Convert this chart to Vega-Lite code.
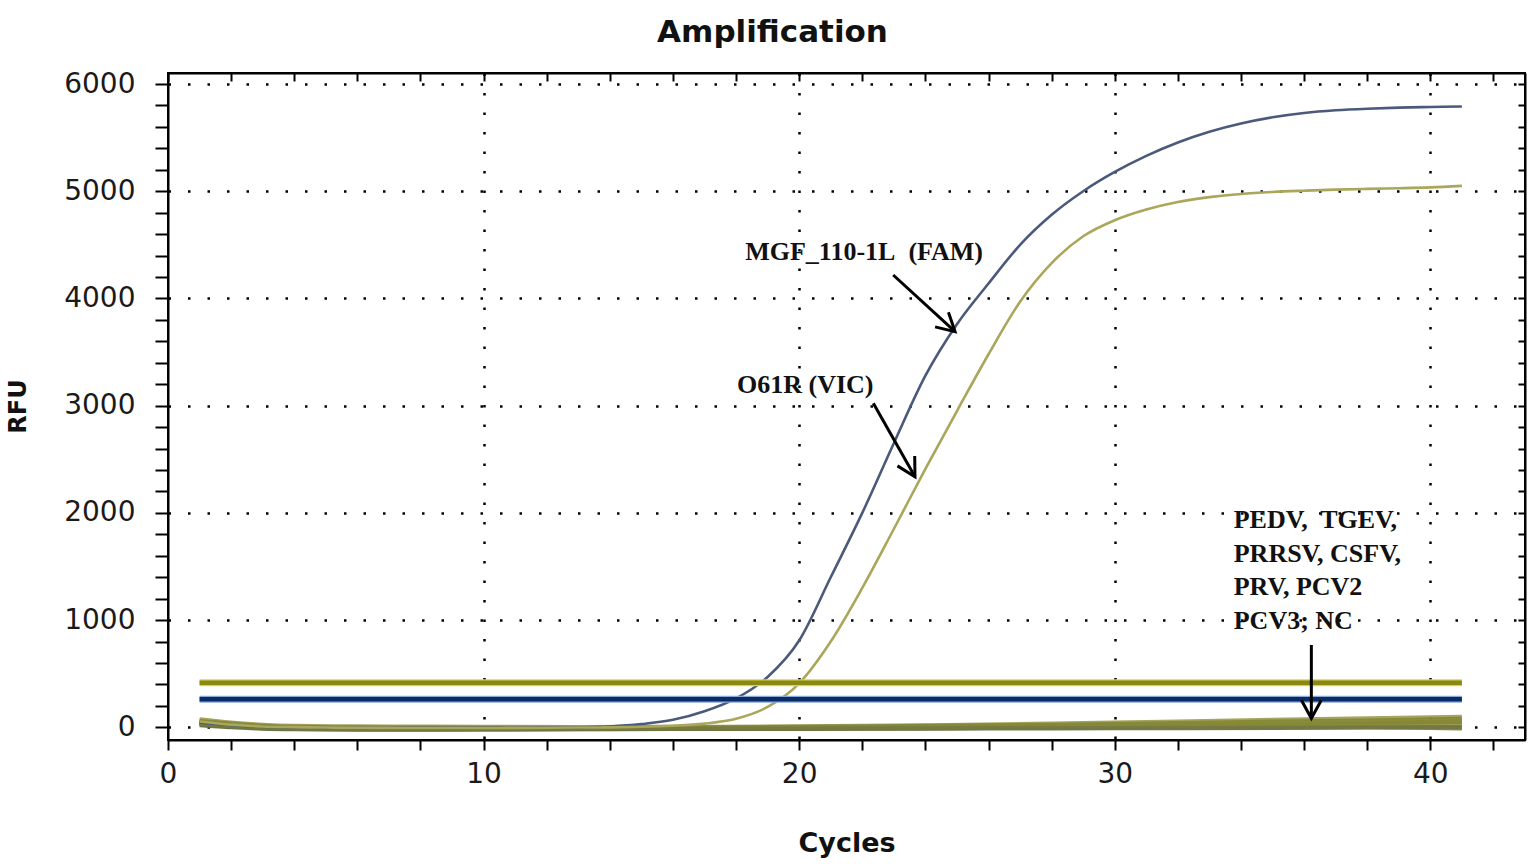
{
  "$schema": "https://vega.github.io/schema/vega-lite/v6.json",
  "width": 1357,
  "height": 667,
  "autosize": {"type": "none"},
  "padding": {"left": 168, "top": 73, "right": 10, "bottom": 128},
  "background": "white",
  "title": {"text": "Amplification", "font": "DejaVu Sans", "fontSize": 31, "fontWeight": "bold", "color": "#111111", "anchor": "middle", "baseline": "alphabetic", "offset": -3, "dx": -74},
  "config": {
    "view": {"stroke": "black", "strokeWidth": 2},
    "axis": {"domainColor": "black", "domainWidth": 2, "tickColor": "black", "tickWidth": 2, "labelFlush": false, "labelOverlap": false}
  },
  "datasets": {
    "amp": [
      {"target":"FAM","cycle":1,"rfu":45},{"target":"FAM","cycle":2,"rfu":20},{"target":"FAM","cycle":3,"rfu":5},{"target":"FAM","cycle":4,"rfu":0},
      {"target":"FAM","cycle":5,"rfu":-3},{"target":"FAM","cycle":6,"rfu":-4},{"target":"FAM","cycle":7,"rfu":-5},{"target":"FAM","cycle":8,"rfu":-5},
      {"target":"FAM","cycle":9,"rfu":-5},{"target":"FAM","cycle":10,"rfu":-4},{"target":"FAM","cycle":11,"rfu":-3},{"target":"FAM","cycle":12,"rfu":-2},
      {"target":"FAM","cycle":13,"rfu":0},{"target":"FAM","cycle":14,"rfu":8},{"target":"FAM","cycle":15,"rfu":30},{"target":"FAM","cycle":16,"rfu":70},
      {"target":"FAM","cycle":17,"rfu":150},{"target":"FAM","cycle":18,"rfu":270},{"target":"FAM","cycle":19,"rfu":470},{"target":"FAM","cycle":20,"rfu":810},
      {"target":"FAM","cycle":21,"rfu":1400},{"target":"FAM","cycle":22,"rfu":2000},{"target":"FAM","cycle":23,"rfu":2650},{"target":"FAM","cycle":24,"rfu":3280},
      {"target":"FAM","cycle":25,"rfu":3760},{"target":"FAM","cycle":26,"rfu":4140},{"target":"FAM","cycle":27,"rfu":4500},{"target":"FAM","cycle":28,"rfu":4780},
      {"target":"FAM","cycle":29,"rfu":5000},{"target":"FAM","cycle":30,"rfu":5180},{"target":"FAM","cycle":31,"rfu":5330},{"target":"FAM","cycle":32,"rfu":5455},
      {"target":"FAM","cycle":33,"rfu":5555},{"target":"FAM","cycle":34,"rfu":5632},{"target":"FAM","cycle":35,"rfu":5690},{"target":"FAM","cycle":36,"rfu":5730},
      {"target":"FAM","cycle":37,"rfu":5755},{"target":"FAM","cycle":38,"rfu":5770},{"target":"FAM","cycle":39,"rfu":5780},{"target":"FAM","cycle":40,"rfu":5786},
      {"target":"FAM","cycle":41,"rfu":5790},
      {"target":"VIC","cycle":1,"rfu":55},{"target":"VIC","cycle":2,"rfu":25},{"target":"VIC","cycle":3,"rfu":8},{"target":"VIC","cycle":4,"rfu":2},
      {"target":"VIC","cycle":5,"rfu":-2},{"target":"VIC","cycle":6,"rfu":-4},{"target":"VIC","cycle":7,"rfu":-5},{"target":"VIC","cycle":8,"rfu":-6},
      {"target":"VIC","cycle":9,"rfu":-6},{"target":"VIC","cycle":10,"rfu":-6},{"target":"VIC","cycle":11,"rfu":-5},{"target":"VIC","cycle":12,"rfu":-4},
      {"target":"VIC","cycle":13,"rfu":-2},{"target":"VIC","cycle":14,"rfu":0},{"target":"VIC","cycle":15,"rfu":5},{"target":"VIC","cycle":16,"rfu":15},
      {"target":"VIC","cycle":17,"rfu":35},{"target":"VIC","cycle":18,"rfu":80},{"target":"VIC","cycle":19,"rfu":190},{"target":"VIC","cycle":20,"rfu":410},
      {"target":"VIC","cycle":21,"rfu":800},{"target":"VIC","cycle":22,"rfu":1300},{"target":"VIC","cycle":23,"rfu":1850},{"target":"VIC","cycle":24,"rfu":2410},
      {"target":"VIC","cycle":25,"rfu":2950},{"target":"VIC","cycle":26,"rfu":3480},{"target":"VIC","cycle":27,"rfu":3970},{"target":"VIC","cycle":28,"rfu":4330},
      {"target":"VIC","cycle":29,"rfu":4580},{"target":"VIC","cycle":30,"rfu":4730},{"target":"VIC","cycle":31,"rfu":4830},{"target":"VIC","cycle":32,"rfu":4900},
      {"target":"VIC","cycle":33,"rfu":4945},{"target":"VIC","cycle":34,"rfu":4975},{"target":"VIC","cycle":35,"rfu":4993},{"target":"VIC","cycle":36,"rfu":5005},
      {"target":"VIC","cycle":37,"rfu":5015},{"target":"VIC","cycle":38,"rfu":5022},{"target":"VIC","cycle":39,"rfu":5028},{"target":"VIC","cycle":40,"rfu":5036},
      {"target":"VIC","cycle":41,"rfu":5050}
    ],
    "neg": [
      {"sample":"A","cycle":1,"rfu":75},{"sample":"A","cycle":2,"rfu":45},{"sample":"A","cycle":3,"rfu":25},{"sample":"A","cycle":4,"rfu":15},{"sample":"A","cycle":6,"rfu":10},{"sample":"A","cycle":8,"rfu":8},{"sample":"A","cycle":10,"rfu":5},{"sample":"A","cycle":13,"rfu":3},{"sample":"A","cycle":16,"rfu":5},{"sample":"A","cycle":20,"rfu":10},{"sample":"A","cycle":24,"rfu":20},{"sample":"A","cycle":28,"rfu":35},{"sample":"A","cycle":32,"rfu":55},{"sample":"A","cycle":35,"rfu":70},{"sample":"A","cycle":38,"rfu":85},{"sample":"A","cycle":40,"rfu":95},{"sample":"A","cycle":41,"rfu":100},
      {"sample":"B","cycle":1,"rfu":60},{"sample":"B","cycle":2,"rfu":35},{"sample":"B","cycle":3,"rfu":15},{"sample":"B","cycle":4,"rfu":5},{"sample":"B","cycle":6,"rfu":0},{"sample":"B","cycle":8,"rfu":-2},{"sample":"B","cycle":10,"rfu":-3},{"sample":"B","cycle":13,"rfu":-3},{"sample":"B","cycle":16,"rfu":0},{"sample":"B","cycle":20,"rfu":5},{"sample":"B","cycle":24,"rfu":15},{"sample":"B","cycle":28,"rfu":25},{"sample":"B","cycle":32,"rfu":40},{"sample":"B","cycle":35,"rfu":55},{"sample":"B","cycle":38,"rfu":65},{"sample":"B","cycle":40,"rfu":75},{"sample":"B","cycle":41,"rfu":80},
      {"sample":"C","cycle":1,"rfu":50},{"sample":"C","cycle":2,"rfu":20},{"sample":"C","cycle":3,"rfu":5},{"sample":"C","cycle":4,"rfu":-5},{"sample":"C","cycle":6,"rfu":-10},{"sample":"C","cycle":8,"rfu":-12},{"sample":"C","cycle":10,"rfu":-12},{"sample":"C","cycle":13,"rfu":-10},{"sample":"C","cycle":16,"rfu":-8},{"sample":"C","cycle":20,"rfu":-2},{"sample":"C","cycle":24,"rfu":5},{"sample":"C","cycle":28,"rfu":15},{"sample":"C","cycle":32,"rfu":25},{"sample":"C","cycle":35,"rfu":35},{"sample":"C","cycle":38,"rfu":45},{"sample":"C","cycle":40,"rfu":55},{"sample":"C","cycle":41,"rfu":60},
      {"sample":"D","cycle":1,"rfu":40},{"sample":"D","cycle":2,"rfu":15},{"sample":"D","cycle":3,"rfu":0},{"sample":"D","cycle":4,"rfu":-10},{"sample":"D","cycle":6,"rfu":-15},{"sample":"D","cycle":8,"rfu":-18},{"sample":"D","cycle":10,"rfu":-18},{"sample":"D","cycle":13,"rfu":-15},{"sample":"D","cycle":16,"rfu":-12},{"sample":"D","cycle":20,"rfu":-8},{"sample":"D","cycle":24,"rfu":-3},{"sample":"D","cycle":28,"rfu":5},{"sample":"D","cycle":32,"rfu":12},{"sample":"D","cycle":35,"rfu":20},{"sample":"D","cycle":38,"rfu":28},{"sample":"D","cycle":40,"rfu":32},{"sample":"D","cycle":41,"rfu":35},
      {"sample":"E","cycle":1,"rfu":30},{"sample":"E","cycle":2,"rfu":5},{"sample":"E","cycle":3,"rfu":-8},{"sample":"E","cycle":4,"rfu":-15},{"sample":"E","cycle":6,"rfu":-20},{"sample":"E","cycle":8,"rfu":-20},{"sample":"E","cycle":10,"rfu":-20},{"sample":"E","cycle":13,"rfu":-18},{"sample":"E","cycle":16,"rfu":-15},{"sample":"E","cycle":20,"rfu":-12},{"sample":"E","cycle":24,"rfu":-8},{"sample":"E","cycle":28,"rfu":-3},{"sample":"E","cycle":32,"rfu":3},{"sample":"E","cycle":35,"rfu":8},{"sample":"E","cycle":38,"rfu":12},{"sample":"E","cycle":40,"rfu":15},{"sample":"E","cycle":41,"rfu":18},
      {"sample":"F","cycle":1,"rfu":20},{"sample":"F","cycle":2,"rfu":0},{"sample":"F","cycle":3,"rfu":-12},{"sample":"F","cycle":4,"rfu":-18},{"sample":"F","cycle":6,"rfu":-22},{"sample":"F","cycle":8,"rfu":-22},{"sample":"F","cycle":10,"rfu":-20},{"sample":"F","cycle":13,"rfu":-18},{"sample":"F","cycle":16,"rfu":-16},{"sample":"F","cycle":20,"rfu":-15},{"sample":"F","cycle":24,"rfu":-12},{"sample":"F","cycle":28,"rfu":-10},{"sample":"F","cycle":32,"rfu":-8},{"sample":"F","cycle":35,"rfu":-5},{"sample":"F","cycle":38,"rfu":-2},{"sample":"F","cycle":40,"rfu":0},{"sample":"F","cycle":41,"rfu":0},
      {"sample":"G","cycle":1,"rfu":45},{"sample":"G","cycle":2,"rfu":25},{"sample":"G","cycle":3,"rfu":10},{"sample":"G","cycle":4,"rfu":0},{"sample":"G","cycle":6,"rfu":-5},{"sample":"G","cycle":8,"rfu":-8},{"sample":"G","cycle":10,"rfu":-8},{"sample":"G","cycle":13,"rfu":-6},{"sample":"G","cycle":16,"rfu":-3},{"sample":"G","cycle":20,"rfu":0},{"sample":"G","cycle":24,"rfu":5},{"sample":"G","cycle":28,"rfu":10},{"sample":"G","cycle":32,"rfu":18},{"sample":"G","cycle":35,"rfu":25},{"sample":"G","cycle":38,"rfu":35},{"sample":"G","cycle":40,"rfu":45},{"sample":"G","cycle":41,"rfu":50},
      {"sample":"H","cycle":1,"rfu":35},{"sample":"H","cycle":2,"rfu":10},{"sample":"H","cycle":3,"rfu":-3},{"sample":"H","cycle":4,"rfu":-12},{"sample":"H","cycle":6,"rfu":-16},{"sample":"H","cycle":8,"rfu":-16},{"sample":"H","cycle":10,"rfu":-15},{"sample":"H","cycle":13,"rfu":-14},{"sample":"H","cycle":16,"rfu":-12},{"sample":"H","cycle":20,"rfu":-10},{"sample":"H","cycle":24,"rfu":-8},{"sample":"H","cycle":28,"rfu":-6},{"sample":"H","cycle":32,"rfu":-4},{"sample":"H","cycle":35,"rfu":-2},{"sample":"H","cycle":38,"rfu":0},{"sample":"H","cycle":40,"rfu":-5},{"sample":"H","cycle":41,"rfu":-10}
    ],
    "thresholds": [
      {"channel":"VIC","start":1,"end":41,"rfu":416},
      {"channel":"FAM","start":1,"end":41,"rfu":261}
    ],
    "arrows": [
      {"arrow":"FAM","x1":22.98,"y1":4219,"x2":24.94,"y2":3690,"angle":-47.6},
      {"arrow":"VIC","x1":22.35,"y1":3022,"x2":23.67,"y2":2338,"angle":-29.6},
      {"arrow":"neg","x1":36.23,"y1":768,"x2":36.23,"y2":84,"angle":0}
    ],
    "labels": [
      {"cycle":18.29,"rfu":4356,"label":"MGF_110-1L\u00a0\u00a0(FAM)"},
      {"cycle":18.03,"rfu":3114,"label":"O61R (VIC)"}
    ],
    "labels2": [
      {"cycle":33.77,"rfu":1857,"label":"PEDV,\u00a0 TGEV,\nPRRSV, CSFV,\nPRV, PCV2\nPCV3; NC"}
    ]
  },
  "resolve": {"scale": {"color": "independent"}, "axis": {"x": "independent", "y": "independent"}},
  "layer": [
    {
      "data": {"name": "neg"},
      "mark": {"type": "line", "strokeWidth": 4, "opacity": 0.9, "interpolate": "monotone"},
      "encoding": {
        "x": {"field": "cycle", "type": "quantitative",
          "scale": {"domain": [0, 43], "nice": false, "zero": false},
          "axis": {
            "values": [0,2,4,6,8,10,12,14,16,18,20,22,24,26,28,30,32,34,36,38,40,42],
            "format": "d",
            "labelExpr": "datum.value % 10 === 0 ? datum.label : ''",
            "grid": true, "gridColor": "black", "gridDash": [2.5, 17], "gridWidth": 2.5,
            "gridOpacity": {"condition": {"test": "datum.value % 10 === 0 && datum.value > 0", "value": 1}, "value": 0},
            "tickSize": 10, "labelFont": "DejaVu Sans", "labelFontSize": 28, "labelColor": "#1a1a1a", "labelPadding": 10,
            "title": "Cycles", "titleFont": "DejaVu Sans", "titleFontSize": 27, "titleFontWeight": "bold", "titleColor": "#111111",
            "titleY": 111, "titleBaseline": "alphabetic"
          }
        },
        "y": {"field": "rfu", "type": "quantitative",
          "scale": {"domain": [-118, 6103], "nice": false, "zero": false},
          "axis": {
            "values": [0,200,400,600,800,1000,1200,1400,1600,1800,2000,2200,2400,2600,2800,3000,3200,3400,3600,3800,4000,4200,4400,4600,4800,5000,5200,5400,5600,5800,6000],
            "format": "d",
            "labelExpr": "datum.value % 1000 === 0 ? datum.label : ''",
            "grid": true, "gridColor": "black", "gridDash": [2.5, 17], "gridWidth": 2.5,
            "gridOpacity": {"condition": {"test": "datum.value % 1000 === 0", "value": 1}, "value": 0},
            "tickSize": 13, "labelFont": "DejaVu Sans", "labelFontSize": 28, "labelColor": "#1a1a1a", "labelPadding": 20,
            "title": "RFU", "titleFont": "DejaVu Sans", "titleFontSize": 24, "titleFontWeight": "bold", "titleColor": "#111111",
            "titleX": -143, "titleY": 333, "titleBaseline": "alphabetic", "titleAngle": -90
          }
        },
        "color": {"field": "sample", "type": "nominal", "legend": null,
          "scale": {"domain": ["A","B","C","D","E","F","G","H"], "range": ["#9c9a4c","#7f8a36","#8c8a2e","#6e7d3c","#a3a055","#5f6b3a","#87873a","#767a44"]}}
      }
    },
    {
      "data": {"name": "amp"},
      "mark": {"type": "line", "strokeWidth": 2.6, "interpolate": "monotone"},
      "encoding": {
        "x": {"field": "cycle", "type": "quantitative",
          "scale": {"domain": [0, 43], "nice": false, "zero": false},
          "axis": {"orient": "top", "values": [0,2,4,6,8,10,12,14,16,18,20,22,24,26,28,30,32,34,36,38,40,42], "labels": false, "grid": false, "tickSize": -8, "title": null}
        },
        "y": {"field": "rfu", "type": "quantitative",
          "scale": {"domain": [-118, 6103], "nice": false, "zero": false},
          "axis": {"orient": "right", "values": [0,200,400,600,800,1000,1200,1400,1600,1800,2000,2200,2400,2600,2800,3000,3200,3400,3600,3800,4000,4200,4400,4600,4800,5000,5200,5400,5600,5800,6000], "labels": false, "grid": false, "tickSize": -7, "title": null}
        },
        "color": {"field": "target", "type": "nominal", "legend": null,
          "scale": {"domain": ["FAM", "VIC"], "range": ["#4b5a7a", "#aaa65a"]}}
      }
    },
    {
      "data": {"name": "thresholds"},
      "transform": [{"filter": "datum.channel === 'VIC'"}],
      "mark": {"type": "rule", "color": "#d6d35a", "strokeWidth": 7},
      "encoding": {
        "x": {"field": "start", "type": "quantitative", "scale": {"domain": [0, 43], "nice": false, "zero": false}, "axis": null},
        "x2": {"field": "end"},
        "y": {"field": "rfu", "type": "quantitative", "scale": {"domain": [-118, 6103], "nice": false, "zero": false}, "axis": null}
      }
    },
    {
      "data": {"name": "thresholds"},
      "transform": [{"filter": "datum.channel === 'VIC'"}],
      "mark": {"type": "rule", "color": "#8a8712", "strokeWidth": 4.5},
      "encoding": {
        "x": {"field": "start", "type": "quantitative", "scale": {"domain": [0, 43], "nice": false, "zero": false}, "axis": null},
        "x2": {"field": "end"},
        "y": {"field": "rfu", "type": "quantitative", "scale": {"domain": [-118, 6103], "nice": false, "zero": false}, "axis": null}
      }
    },
    {
      "data": {"name": "thresholds"},
      "transform": [{"filter": "datum.channel === 'FAM'"}],
      "mark": {"type": "rule", "color": "#86abd8", "strokeWidth": 7},
      "encoding": {
        "x": {"field": "start", "type": "quantitative", "scale": {"domain": [0, 43], "nice": false, "zero": false}, "axis": null},
        "x2": {"field": "end"},
        "y": {"field": "rfu", "type": "quantitative", "scale": {"domain": [-118, 6103], "nice": false, "zero": false}, "axis": null}
      }
    },
    {
      "data": {"name": "thresholds"},
      "transform": [{"filter": "datum.channel === 'FAM'"}],
      "mark": {"type": "rule", "color": "#0b2a66", "strokeWidth": 4.5},
      "encoding": {
        "x": {"field": "start", "type": "quantitative", "scale": {"domain": [0, 43], "nice": false, "zero": false}, "axis": null},
        "x2": {"field": "end"},
        "y": {"field": "rfu", "type": "quantitative", "scale": {"domain": [-118, 6103], "nice": false, "zero": false}, "axis": null}
      }
    },
    {
      "data": {"name": "arrows"},
      "mark": {"type": "rule", "color": "black", "strokeWidth": 3},
      "encoding": {
        "x": {"field": "x1", "type": "quantitative", "scale": {"domain": [0, 43], "nice": false, "zero": false}, "axis": null},
        "y": {"field": "y1", "type": "quantitative", "scale": {"domain": [-118, 6103], "nice": false, "zero": false}, "axis": null},
        "x2": {"field": "x2"},
        "y2": {"field": "y2"}
      }
    },
    {
      "data": {"name": "arrows"},
      "mark": {"type": "point", "shape": "M -0.55 -1 L 0 0 L 0.55 -1", "filled": false, "stroke": "black", "strokeWidth": 3, "size": 1300, "opacity": 1},
      "encoding": {
        "x": {"field": "x2", "type": "quantitative", "scale": {"domain": [0, 43], "nice": false, "zero": false}, "axis": null},
        "y": {"field": "y2", "type": "quantitative", "scale": {"domain": [-118, 6103], "nice": false, "zero": false}, "axis": null},
        "angle": {"field": "angle", "type": "quantitative", "scale": null}
      }
    },
    {
      "data": {"name": "labels"},
      "mark": {"type": "text", "font": "Liberation Serif", "fontWeight": "bold", "fontSize": 26, "color": "#111111", "align": "left", "baseline": "alphabetic"},
      "encoding": {
        "x": {"field": "cycle", "type": "quantitative", "scale": {"domain": [0, 43], "nice": false, "zero": false}, "axis": null},
        "y": {"field": "rfu", "type": "quantitative", "scale": {"domain": [-118, 6103], "nice": false, "zero": false}, "axis": null},
        "text": {"field": "label"}
      }
    },
    {
      "data": {"name": "labels2"},
      "mark": {"type": "text", "font": "Liberation Serif", "fontWeight": "bold", "fontSize": 26, "color": "#111111", "align": "left", "baseline": "alphabetic", "lineBreak": "\n", "lineHeight": 33.5},
      "encoding": {
        "x": {"field": "cycle", "type": "quantitative", "scale": {"domain": [0, 43], "nice": false, "zero": false}, "axis": null},
        "y": {"field": "rfu", "type": "quantitative", "scale": {"domain": [-118, 6103], "nice": false, "zero": false}, "axis": null},
        "text": {"field": "label"}
      }
    }
  ]
}
